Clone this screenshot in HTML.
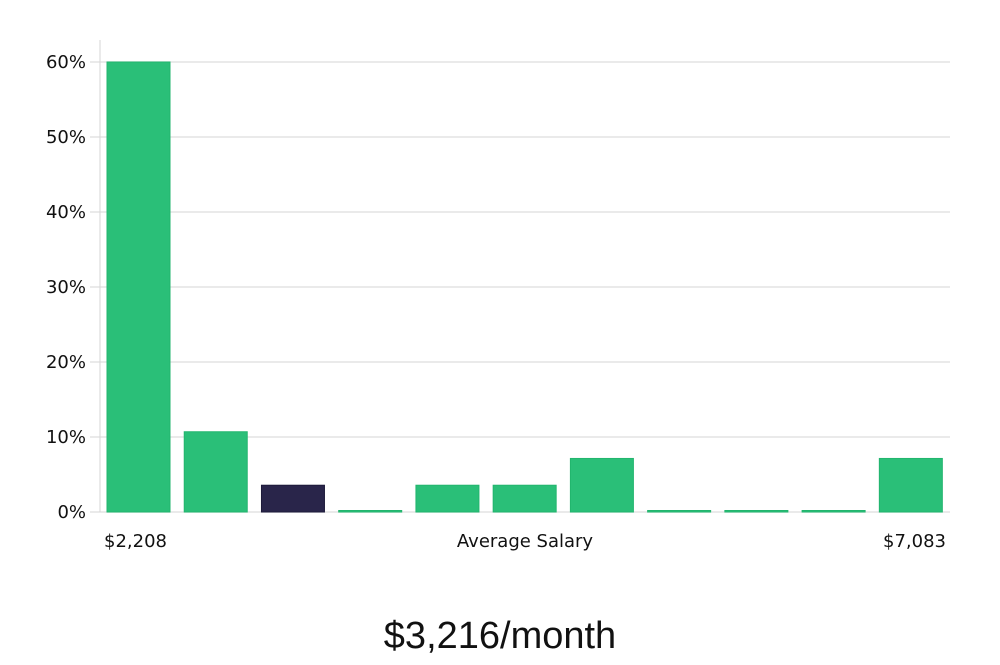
<!DOCTYPE html>
<html><head><meta charset="utf-8"><style>
body{margin:0;background:#fff;width:1000px;height:660px;overflow:hidden}
svg text{font-family:"DejaVu Sans","Liberation Sans",sans-serif}
</style></head><body>
<svg id="chart" width="1000" height="660" xmlns="http://www.w3.org/2000/svg">
<g id="grid"></g>
<g id="yaxis"></g>
<g id="bars"></g>
<text x="104" y="547" font-size="18" fill="#111">$2,208</text>
<text x="525" y="547" font-size="18" fill="#111" text-anchor="middle">Average Salary</text>
<text x="946" y="547" font-size="18" fill="#111" text-anchor="end">$7,083</text>
<text x="500" y="648" font-size="38" fill="#111" text-anchor="middle" style="font-family:'Liberation Sans',sans-serif;font-weight:300">$3,216/month</text>
</svg>
<script>
const categories=["b1","b2","b3","b4","b5","b6","b7","b8","b9","b10","b11"];
const values=[60,10.7,3.57,0,3.57,3.57,7.14,0,0,0,7.14];
const highlight=[false,false,true,false,false,false,false,false,false,false,false];
const yTicks=[0,10,20,30,40,50,60];
const ns="http://www.w3.org/2000/svg";
const x0=100,x1=950,y0=512,yMax=60,yTop=62;
const y=v=>y0-(v/yMax)*(y0-yTop);
const band=(x1-x0)/categories.length;
const xb=i=>x0+6+i*band*0.9995;
function mk(t,a,p){const e=document.createElementNS(ns,t);for(const k in a)e.setAttribute(k,a[k]);p.appendChild(e);return e;}
const grid=document.getElementById('grid'),ya=document.getElementById('yaxis'),bars=document.getElementById('bars');
const ax=mk('line',{x1:x0,x2:x0,y1:40,y2:y0,stroke:'#d6d6d6','stroke-width':1},ya);


yTicks.forEach(t=>{
  const g=mk('line',{x1:x0,x2:x1,y1:y(t),y2:y(t),stroke:'#e3e3e3','stroke-width':1.5},grid);
  
  
  const tk=mk('line',{x1:x0-10,x2:x0,y1:y(t),y2:y(t),stroke:'#d6d6d6','stroke-width':1},ya);
  
  
  const tx=mk('text',{x:x0-14,y:y(t)+6,'font-size':18,fill:'#111','text-anchor':'end'},ya);
  tx.textContent=t+'%';
  
  
});
const bw=63;
values.forEach((v,i)=>{
  const h=Math.max(1.5,y0-y(v));
  const r=mk('rect',{x:xb(i)+1,y:y0-h,width:bw,height:h,fill:highlight[i]?'#29254a':'#2abf78',stroke:highlight[i]?'#1d1a3a':'#22b56e','stroke-width':1},bars);
  
  
});
</script>
</body></html>
